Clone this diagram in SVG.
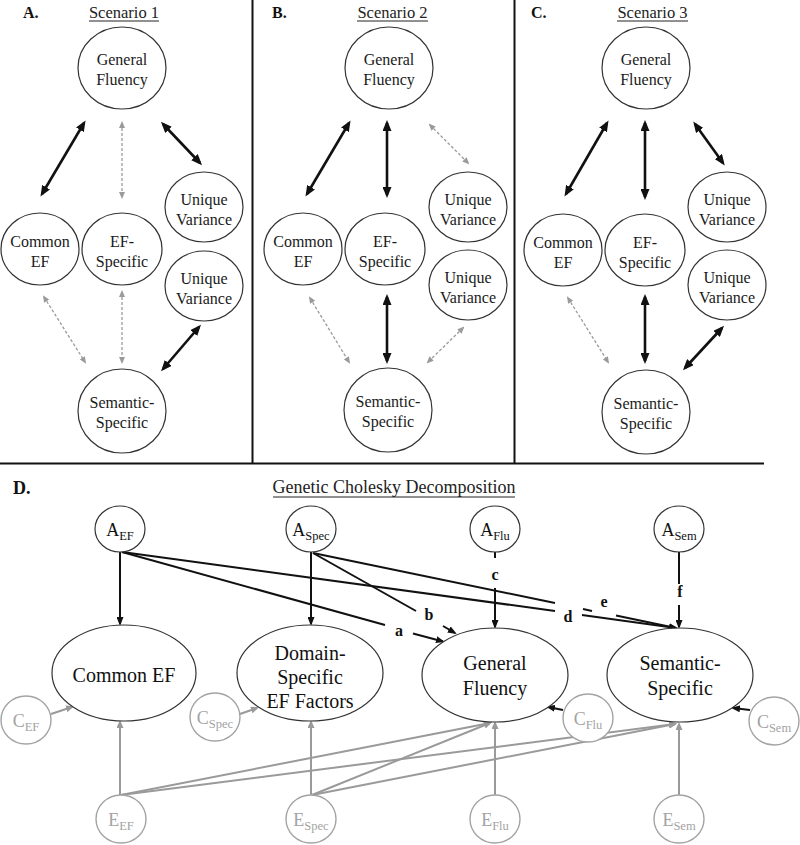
<svg xmlns="http://www.w3.org/2000/svg" width="800" height="845" viewBox="0 0 800 845">
<style>
.n{fill:#fff;stroke:#333;stroke-width:1.2}
.g{fill:#fff;stroke:#a3a3a3;stroke-width:1.4}
.f{font-family:'Liberation Serif','DejaVu Serif','Noto Serif','Times New Roman',Times,serif}
.t{font-size:16px;fill:#1a1a1a;text-anchor:middle}
.tl{font-size:20px;fill:#111;text-anchor:middle}
.ta{font-size:18px;fill:#111;text-anchor:middle}
.tg{font-size:18px;fill:#a3a3a3;text-anchor:middle}
.sub{font-size:12.5px}
.h{font-weight:bold;fill:#111}
.ti{fill:#222;text-anchor:middle}
.lb{font-weight:bold;font-size:16px;fill:#111;text-anchor:middle}
.bk{stroke:#111;stroke-width:2.6;fill:none;marker-start:url(#hb);marker-end:url(#hb)}
.dg{stroke:#9a9a9a;stroke-width:1.3;stroke-dasharray:3 2;fill:none;marker-start:url(#hg);marker-end:url(#hg)}
.pd{stroke:#111;stroke-width:2;fill:none}
.pa{stroke:#111;stroke-width:2;fill:none;marker-end:url(#hd)}
.pg{stroke:#9a9a9a;stroke-width:2;fill:none;marker-end:url(#hgd)}
.div{stroke:#111;stroke-width:2}
</style>
<defs>
<marker id="hb" markerUnits="userSpaceOnUse" markerWidth="11" markerHeight="9" refX="8" refY="4.5" orient="auto-start-reverse"><path d="M0,0 L11,4.5 L0,9 z" fill="#111"/></marker>
<marker id="hg" markerUnits="userSpaceOnUse" markerWidth="7" markerHeight="6" refX="5" refY="3" orient="auto-start-reverse"><path d="M0,0 L7,3 L0,6 z" fill="#9a9a9a"/></marker>
<marker id="hd" markerUnits="userSpaceOnUse" markerWidth="9" markerHeight="7" refX="7" refY="3.5" orient="auto"><path d="M0,0 L9,3.5 L0,7 z" fill="#111"/></marker>
<marker id="hgd" markerUnits="userSpaceOnUse" markerWidth="8" markerHeight="7" refX="6" refY="3.5" orient="auto"><path d="M0,0 L8,3.5 L0,7 z" fill="#9a9a9a"/></marker>
</defs>
<rect width="800" height="845" fill="#fff"/>

<g id="dividers">
<line class="div" x1="252.5" y1="0" x2="252.5" y2="463"/>
<line class="div" x1="514.5" y1="0" x2="514.5" y2="463"/>
<line class="div" x1="0" y1="463.5" x2="764" y2="463.5"/>
</g>

<g id="titles" class="f">
<text class="h" x="23" y="18" font-size="16">A.</text>
<text class="ti" x="124" y="18" font-size="16.5">Scenario 1</text>
<line x1="89" y1="21" x2="159" y2="21" stroke="#222" stroke-width="1"/>
<text class="h" x="272" y="18" font-size="16">B.</text>
<text class="ti" x="392.5" y="18" font-size="16.5">Scenario 2</text>
<line x1="357" y1="21" x2="428" y2="21" stroke="#222" stroke-width="1"/>
<text class="h" x="531" y="18" font-size="16">C.</text>
<text class="ti" x="652.5" y="18" font-size="16.5">Scenario 3</text>
<line x1="617" y1="21" x2="688" y2="21" stroke="#222" stroke-width="1"/>
<text class="h" x="13" y="494" font-size="18">D.</text>
<text class="ti" x="394" y="493" font-size="18">Genetic Cholesky Decomposition</text>
<line x1="273" y1="497" x2="515" y2="497" stroke="#222" stroke-width="1"/>
</g>

<g id="connectors-A">
<line class="bk" x1="84" y1="123" x2="42" y2="194"/>
<line class="dg" x1="122" y1="123" x2="122" y2="197"/>
<line class="bk" x1="163" y1="124" x2="200" y2="163"/>
<line class="dg" x1="44" y1="297" x2="85" y2="362"/>
<line class="dg" x1="122" y1="292" x2="122" y2="362"/>
<line class="bk" x1="199" y1="327" x2="163" y2="369"/>
</g>
<g id="connectors-B">
<line class="bk" x1="349" y1="123" x2="307" y2="194"/>
<line class="bk" x1="387" y1="123" x2="387" y2="195"/>
<line class="dg" x1="430" y1="125" x2="468" y2="163"/>
<line class="dg" x1="310" y1="298" x2="349" y2="362"/>
<line class="bk" x1="387" y1="297" x2="387" y2="361"/>
<line class="dg" x1="463" y1="328" x2="428" y2="362"/>
</g>
<g id="connectors-C">
<line class="bk" x1="607" y1="123" x2="566" y2="194"/>
<line class="bk" x1="645" y1="123" x2="645" y2="197"/>
<line class="bk" x1="695" y1="124" x2="723" y2="163"/>
<line class="dg" x1="568" y1="298" x2="608" y2="362"/>
<line class="bk" x1="645" y1="297" x2="645" y2="361"/>
<line class="bk" x1="722" y1="328" x2="685" y2="368"/>
</g>

<g class="f">
<g id="A-general-fluency"><ellipse class="n" cx="122" cy="68" rx="44" ry="41"/><text class="t" x="122" y="65">General</text><text class="t" x="122" y="85">Fluency</text></g>
<g id="A-common-ef"><ellipse class="n" cx="40" cy="249" rx="39" ry="36"/><text class="t" x="40" y="247">Common</text><text class="t" x="40" y="267">EF</text></g>
<g id="A-ef-specific"><ellipse class="n" cx="122" cy="249" rx="40" ry="36"/><text class="t" x="122" y="247">EF-</text><text class="t" x="122" y="267">Specific</text></g>
<g id="A-unique-1"><ellipse class="n" cx="204" cy="207" rx="39" ry="35"/><text class="t" x="204" y="205">Unique</text><text class="t" x="204" y="225">Variance</text></g>
<g id="A-unique-2"><ellipse class="n" cx="204" cy="286" rx="39" ry="35"/><text class="t" x="204" y="284">Unique</text><text class="t" x="204" y="304">Variance</text></g>
<g id="A-semantic"><ellipse class="n" cx="122" cy="411" rx="44" ry="42"/><text class="t" x="122" y="408">Semantic-</text><text class="t" x="122" y="428">Specific</text></g>

<g id="B-general-fluency"><ellipse class="n" cx="389" cy="68" rx="44" ry="41"/><text class="t" x="389" y="65">General</text><text class="t" x="389" y="85">Fluency</text></g>
<g id="B-common-ef"><ellipse class="n" cx="303" cy="249" rx="39" ry="36"/><text class="t" x="303" y="247">Common</text><text class="t" x="303" y="267">EF</text></g>
<g id="B-ef-specific"><ellipse class="n" cx="385" cy="249" rx="40" ry="36"/><text class="t" x="385" y="247">EF-</text><text class="t" x="385" y="267">Specific</text></g>
<g id="B-unique-1"><ellipse class="n" cx="468" cy="207" rx="39" ry="35"/><text class="t" x="468" y="205">Unique</text><text class="t" x="468" y="225">Variance</text></g>
<g id="B-unique-2"><ellipse class="n" cx="468" cy="285" rx="39" ry="35"/><text class="t" x="468" y="283">Unique</text><text class="t" x="468" y="303">Variance</text></g>
<g id="B-semantic"><ellipse class="n" cx="388" cy="410" rx="44" ry="42"/><text class="t" x="388" y="407">Semantic-</text><text class="t" x="388" y="427">Specific</text></g>

<g id="C-general-fluency"><ellipse class="n" cx="646" cy="68" rx="44" ry="41"/><text class="t" x="646" y="65">General</text><text class="t" x="646" y="85">Fluency</text></g>
<g id="C-common-ef"><ellipse class="n" cx="563" cy="250" rx="39" ry="36"/><text class="t" x="563" y="248">Common</text><text class="t" x="563" y="268">EF</text></g>
<g id="C-ef-specific"><ellipse class="n" cx="645" cy="250" rx="40" ry="36"/><text class="t" x="645" y="248">EF-</text><text class="t" x="645" y="268">Specific</text></g>
<g id="C-unique-1"><ellipse class="n" cx="727" cy="207" rx="39" ry="35"/><text class="t" x="727" y="205">Unique</text><text class="t" x="727" y="225">Variance</text></g>
<g id="C-unique-2"><ellipse class="n" cx="727" cy="285" rx="39" ry="35"/><text class="t" x="727" y="283">Unique</text><text class="t" x="727" y="303">Variance</text></g>
<g id="C-semantic"><ellipse class="n" cx="646" cy="412" rx="44" ry="42"/><text class="t" x="646" y="409">Semantic-</text><text class="t" x="646" y="429">Specific</text></g>
</g>

<g id="connectors-D">
<line class="pa" x1="120" y1="552" x2="120" y2="624"/>
<line class="pa" x1="311" y1="552" x2="311" y2="624"/>
<line class="pd" x1="122" y1="552" x2="385" y2="625"/>
<line class="pa" x1="413" y1="633.5" x2="443" y2="641.5"/>
<line class="pd" x1="122" y1="552" x2="555" y2="611"/>
<line class="pa" x1="582" y1="615" x2="676" y2="628"/>
<line class="pd" x1="313" y1="553" x2="416" y2="611"/>
<line class="pa" x1="443" y1="626" x2="455" y2="633"/>
<line class="pd" x1="313" y1="553" x2="555" y2="603"/>
<line class="pd" x1="583" y1="609" x2="592" y2="611"/>
<line class="pa" x1="616" y1="615.5" x2="676" y2="628"/>
<line class="pd" x1="495" y1="552" x2="495" y2="558"/>
<line class="pa" x1="495" y1="588" x2="495" y2="627"/>
<line class="pd" x1="679" y1="552" x2="679" y2="584"/>
<line class="pa" x1="679" y1="605" x2="679" y2="627"/>
<line class="pa" x1="563" y1="710" x2="548" y2="707"/>
<line class="pa" x1="750" y1="710" x2="733" y2="708"/>
<line class="pg" x1="51" y1="714" x2="72" y2="707"/>
<line class="pg" x1="240" y1="714" x2="257" y2="708"/>
<line class="pg" x1="120" y1="795" x2="120" y2="722"/>
<line class="pg" x1="311" y1="795" x2="311" y2="722"/>
<line class="pg" x1="495" y1="795" x2="495" y2="723"/>
<line class="pg" x1="679" y1="795" x2="679" y2="724"/>
<line class="pg" x1="121" y1="795" x2="490" y2="723"/>
<line class="pg" x1="121" y1="795" x2="675" y2="724"/>
<line class="pg" x1="312" y1="795" x2="490" y2="723"/>
<line class="pg" x1="312" y1="795" x2="675" y2="724"/>
<g class="f">
<text class="lb" x="399" y="636">a</text>
<text class="lb" x="429" y="620">b</text>
<text class="lb" x="495" y="580">c</text>
<text class="lb" x="568" y="622">d</text>
<text class="lb" x="604" y="607">e</text>
<text class="lb" x="680" y="597">f</text>
</g>
</g>

<g class="f">
<g id="A_EF"><ellipse class="n" cx="120" cy="529" rx="25" ry="23"/><text class="ta" x="120" y="536">A<tspan class="sub" dy="4">EF</tspan></text></g>
<g id="A_Spec"><ellipse class="n" cx="311" cy="529" rx="25" ry="23"/><text class="ta" x="311" y="536">A<tspan class="sub" dy="4">Spec</tspan></text></g>
<g id="A_Flu"><ellipse class="n" cx="495" cy="529" rx="25" ry="23"/><text class="ta" x="495" y="536">A<tspan class="sub" dy="4">Flu</tspan></text></g>
<g id="A_Sem"><ellipse class="n" cx="679" cy="529" rx="25" ry="23"/><text class="ta" x="679" y="536">A<tspan class="sub" dy="4">Sem</tspan></text></g>

<g id="D-common-ef"><ellipse class="n" cx="124" cy="673" rx="72" ry="48"/><text class="tl" x="124" y="682">Common EF</text></g>
<g id="D-domain-specific"><ellipse class="n" cx="310" cy="673" rx="73" ry="48"/><text class="tl" x="310" y="660">Domain-</text><text class="tl" x="310" y="684">Specific</text><text class="tl" x="310" y="708">EF Factors</text></g>
<g id="D-general-fluency"><ellipse class="n" cx="495" cy="675" rx="73" ry="47"/><text class="tl" x="495" y="670">General</text><text class="tl" x="495" y="695">Fluency</text></g>
<g id="D-semantic"><ellipse class="n" cx="680" cy="675" rx="73" ry="47"/><text class="tl" x="680" y="670">Semantic-</text><text class="tl" x="680" y="695">Specific</text></g>

<g id="C_EF"><ellipse class="g" cx="26" cy="720" rx="25" ry="24"/><text class="tg" x="26" y="727">C<tspan class="sub" dy="4">EF</tspan></text></g>
<g id="C_Spec"><ellipse class="g" cx="215" cy="717" rx="25" ry="24"/><text class="tg" x="215" y="724">C<tspan class="sub" dy="4">Spec</tspan></text></g>
<g id="C_Flu"><ellipse class="g" cx="588" cy="718" rx="25" ry="24"/><text class="tg" x="588" y="725">C<tspan class="sub" dy="4">Flu</tspan></text></g>
<g id="C_Sem"><ellipse class="g" cx="774" cy="721" rx="25" ry="24"/><text class="tg" x="774" y="728">C<tspan class="sub" dy="4">Sem</tspan></text></g>

<g id="E_EF"><ellipse class="g" cx="121" cy="819" rx="25" ry="24"/><text class="tg" x="121" y="826">E<tspan class="sub" dy="4">EF</tspan></text></g>
<g id="E_Spec"><ellipse class="g" cx="311" cy="819" rx="25" ry="24"/><text class="tg" x="311" y="826">E<tspan class="sub" dy="4">Spec</tspan></text></g>
<g id="E_Flu"><ellipse class="g" cx="495" cy="819" rx="25" ry="24"/><text class="tg" x="495" y="826">E<tspan class="sub" dy="4">Flu</tspan></text></g>
<g id="E_Sem"><ellipse class="g" cx="679" cy="819" rx="25" ry="24"/><text class="tg" x="679" y="826">E<tspan class="sub" dy="4">Sem</tspan></text></g>
</g>
</svg>
